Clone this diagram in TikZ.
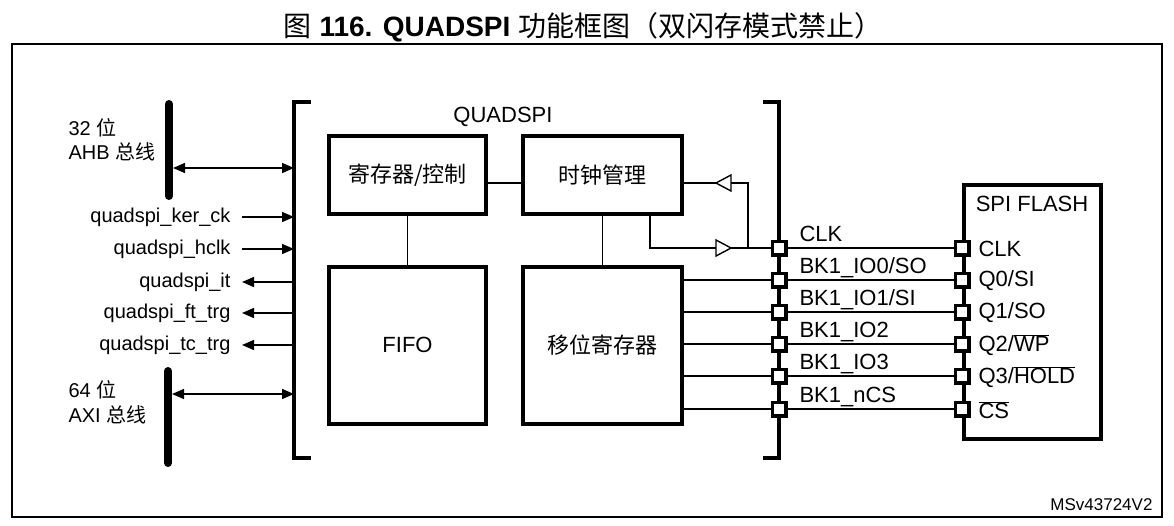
\documentclass[tikz,border=0pt]{standalone}
\usepackage{fontspec}
\setmainfont{Liberation Sans}
\newfontfamily\cjk{Noto Sans CJK SC}
\usetikzlibrary{arrows.meta,calc}
\newcommand\ovl[1]{\ensuremath{\overline{\mbox{#1}}}}
\tikzset{
  blk/.style={draw, line width=4pt, inner sep=0pt, font=\fontsize{22}{26}\selectfont},
  thin/.style={line width=1.4pt},
  pin/.style={draw, line width=3.5pt, fill=white, minimum size=13.5pt, inner sep=0pt},
  sig/.style={font=\fontsize{20}{24}\selectfont},
  pinlbl/.style={font=\fontsize{22}{26}\selectfont},
  arr/.style={thin, -{Triangle[length=12pt,width=10pt]}},
  darr/.style={thin, {Triangle[length=12pt,width=10pt]}-{Triangle[length=12pt,width=10pt]}},
  bus/.style={line width=8pt, line cap=round},
  brk/.style={line width=4pt},
  buf/.style={thin, fill=white},
}
\begin{document}
\begin{tikzpicture}[x=1pt,y=-1pt]
\useasboundingbox (0,0) rectangle (1174,525);
% title
\node[font=\fontsize{28}{32}\selectfont] (title) at (583,27) {{\cjk 图} \textbf{116. QUADSPI} {\cjk 功能框图（双闪存模式禁止）}};
% frame
\draw[line width=1.5pt] (12,44) rectangle (1162,517);
\node[font=\fontsize{17}{20}\selectfont, anchor=east] (ref) at (1156,505) {MSv43724V2};

% brackets
\draw[brk] (311,102) -- (294,102) -- (294,458) -- (311,458);
\draw[brk] (763,102) -- (779,102) -- (779,458) -- (763,458);
\coordinate (bl) at (294,0);
\coordinate (br) at (779,0);
\node[font=\fontsize{22}{26}\selectfont] (qlbl) at (503,117) {QUADSPI};

% blocks
\node[blk, minimum width=157pt, minimum height=78pt] (reg) at (407.5,175) {\cjk 寄存器/控制};
\node[blk, minimum width=159pt, minimum height=78pt] (clk) at (602.5,175) {\cjk 时钟管理};
\node[blk, minimum width=157pt, minimum height=157pt] (fifo) at (407.5,345) {FIFO};
\node[blk, minimum width=159pt, minimum height=157pt] (shift) at (602.5,345) {\cjk 移位寄存器};

\draw[thin] ($(reg.east)+(0,8)$) -- ($(clk.west)+(0,8)$);
\draw[thin] (reg.south) -- (fifo.north);
\draw[thin] (clk.south) -- (shift.north);

% buses
\draw[bus] (169,104) -- (169,196);
\draw[bus] (168,371) -- (168,463);
\coordinate (ahb) at (173,168);
\coordinate (axi) at (172,394);
\draw[darr] (ahb) -- (ahb -| bl);
\draw[darr] (axi) -- (axi -| bl);
\node[sig, anchor=west] (l32) at (65,128) {32 {\cjk 位}};
\node[sig, anchor=west] (lahb) at (65,152) {AHB {\cjk 总线}};
\node[sig, anchor=west] (l64) at (65,390) {64 {\cjk 位}};
\node[sig, anchor=west] (laxi) at (65,415) {AXI {\cjk 总线}};

% side signals
\node[sig, anchor=east] (ker) at (234,217) {quadspi\_ker\_ck};
\node[sig, anchor=east] (hclk) at (234,249) {quadspi\_hclk};
\node[sig, anchor=east] (it) at (234,282) {quadspi\_it};
\node[sig, anchor=east] (ft) at (234,313) {quadspi\_ft\_trg};
\node[sig, anchor=east] (tc) at (234,345) {quadspi\_tc\_trg};
\draw[arr] ($(ker.east)+(8,0)$) -- (ker -| bl);
\draw[arr] ($(hclk.east)+(8,0)$) -- (hclk -| bl);
\draw[arr] (it -| bl) -- ($(it.east)+(8,0)$);
\draw[arr] (ft -| bl) -- ($(ft.east)+(8,0)$);
\draw[arr] (tc -| bl) -- ($(tc.east)+(8,0)$);

% SPI flash
\node[draw, line width=4pt, minimum width=137pt, minimum height=254pt, inner sep=0pt] (flash) at (1032.5,312) {};
\node[pinlbl] (flt) at (1032,204) {SPI FLASH};

% clock paths
\coordinate (ckdn) at (650,248);
\coordinate (fbk) at (748,248);
\coordinate (fbt) at (748,183);
\draw[thin] (ckdn |- clk.south) -- (ckdn) -- (779,248);
\draw[thin] (fbk) -- (fbt) -- ($(clk.east)+(0,8)$);
\draw[buf] (716,240) -- (731,248) -- (716,256) -- cycle;
\draw[buf] (716,183) -- (731,175) -- (731,191) -- cycle;

% pins
\foreach \n/\y in {0/248,1/280,2/312,3/344,4/376,5/409}{
  \coordinate (bp\n) at (779,\y);
  \coordinate (fp\n) at (962,\y);
}
\foreach \n in {1,...,5}{
  \draw[thin] (bp\n -| shift.east) -- (bp\n);
}
\foreach \n in {0,...,5}{
  \draw[thin] (bp\n) -- (fp\n);
}
\foreach \n in {0,...,5}{
  \node[pin] (bpin\n) at (bp\n) {};
  \node[pin] (fpin\n) at (fp\n) {};
}
% pin labels
\node[pinlbl, anchor=base west] (c0) at ($(bp0)+(17,-7)$) {CLK};
\node[pinlbl, anchor=base west] (c1) at ($(bp1)+(17,-7)$) {BK1\_IO0/SO};
\node[pinlbl, anchor=base west] (c2) at ($(bp2)+(17,-7)$) {BK1\_IO1/SI};
\node[pinlbl, anchor=base west] (c3) at ($(bp3)+(17,-7)$) {BK1\_IO2};
\node[pinlbl, anchor=base west] (c4) at ($(bp4)+(17,-7)$) {BK1\_IO3};
\node[pinlbl, anchor=base west] (c5) at ($(bp5)+(17,-7)$) {BK1\_nCS};
\node[pinlbl, anchor=west] (f0) at ($(fp0)+(13,1)$) {CLK};
\node[pinlbl, anchor=west] (f1) at ($(fp1)+(13,1)$) {Q0/SI};
\node[pinlbl, anchor=west] (f2) at ($(fp2)+(13,1)$) {Q1/SO};
\node[pinlbl, anchor=west] (f3) at ($(fp3)+(13,1)$) {Q2/\ovl{WP}};
\node[pinlbl, anchor=west] (f4) at ($(fp4)+(13,1)$) {Q3/\ovl{HOLD}};
\node[pinlbl, anchor=west] (f5) at ($(fp5)+(13,1)$) {\ovl{CS}};
\end{tikzpicture}
\end{document}
